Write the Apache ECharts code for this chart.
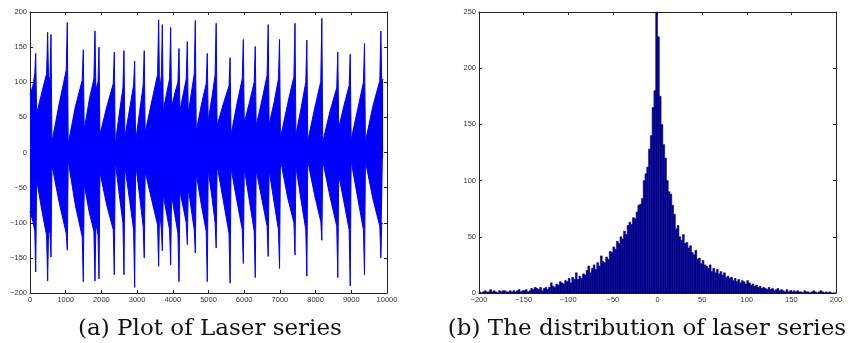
<!DOCTYPE html>
<html><head><meta charset="utf-8">
<script src="https://cdn.jsdelivr.net/npm/echarts@6/dist/echarts.min.js"></script>
<style>html,body{margin:0;padding:0;background:#fff}#c{width:855px;height:343px}</style>
</head><body><div id="c"></div>
<script>
// (a) Laser series: envelope of the dense oscillation
const laserX = [0,80,135,160, 185,330,465,495, 520,560,588, 615,820,1015,1045, 1070,1270,1463,1493,
  1518,1660,1790,1820, 1845,1905,1933, 1958,2150,2332,2362, 2387,2500,2603,2633, 2658,2790,2902,2932,
  2957,3070,3170,3200, 3225,3420,3574,3604, 3629,3680,3707, 3732,3830,3910,3940, 3965,4060,4144,4174,
  4199,4300,4377,4407, 4432,4520,4601,4631, 4656,4800,4936,4966, 4991,5100,5185,5215, 5240,5420,5575,5605,
  5630,5800,5946,5976, 6001,6150,6280,6310, 6335,6500,6642,6672, 6697,6840,6960,6990, 7015,7220,7393,7423,
  7448,7600,7725,7755, 7780,7970,8145,8175, 8200,8400,8592,8622, 8647,8800,8940,8970, 8995,9180,9340,9370,
  9395,9600,9798,9828, 9853,9890];
const laserUpper = [82,95,112,141, 55,85,112,171, 100,108,168, 15,70,117,185, 12,65,103,146,
  32,75,105,173, 90,100,150, 25,65,98,143, 12,55,92,145, 22,62,96,130,
  15,58,96,145, 28,75,111,189, 85,110,182, 60,85,105,178, 65,85,100,148,
  60,85,105,158, 55,85,112,188, 30,68,98,141, 45,80,110,184, 38,70,95,135,
  25,70,105,161, 42,72,100,151, 38,75,110,182, 40,72,105,161, 20,70,108,184,
  25,65,100,160, 16,62,101,191, 15,58,92,143, 35,68,95,140, 18,62,100,155,
  15,65,102,173, 100,105];
const laserLower = [-84,-98,-112,-170, -38,-82,-118,-183, -110,-115,-149, -18,-72,-115,-139, -12,-75,-120,-184,
  -45,-85,-112,-183, -100,-118,-180, -28,-75,-110,-174, -12,-60,-100,-174, -20,-68,-110,-192,
  -15,-62,-105,-150, -27,-70,-103,-162, -80,-110,-140, -60,-88,-110,-160, -60,-90,-115,-184,
  -55,-80,-100,-131, -50,-82,-110,-143, -30,-75,-112,-184, -25,-65,-100,-136, -18,-70,-115,-186,
  -22,-70,-110,-158, -22,-70,-112,-178, -25,-68,-105,-148, -25,-72,-110,-165, -10,-65,-100,-146,
  -20,-70,-110,-176, -12,-60,-98,-125, -12,-62,-105,-178, -32,-72,-110,-190, -12,-65,-110,-174,
  -12,-65,-105,-150, -100,-102];

// (b) Histogram of the laser series (bins of width 2 from -200 to 200)
const histBinStart = -200;
const histBinWidth = 2;
const histCounts = [
  1,0,1,2,1,1,3,1,2,1,0,2,1,2,2,1,1,2,1,2,
  1,2,3,1,2,2,3,1,2,4,
  3,5,4,3,5,2,4,5,3,5,
  9,6,5,8,7,10,9,8,11,10,
  13,9,14,12,18,12,15,13,17,16,
  20,24,18,22,25,21,27,24,33,28,
  27,32,30,37,36,41,39,46,44,50,
  48,55,52,60,63,61,67,66,72,78,
  79,84,100,106,112,128,140,165,180,250,
  228,175,150,132,120,100,90,88,78,70,
  57,60,50,47,52,44,45,40,42,36,
  34,38,30,31,26,29,25,24,22,25,
  19,22,18,21,17,19,16,18,14,15,
  13,14,11,13,10,12,9,11,10,8,
  11,9,7,8,6,7,5,6,4,5,
  4,3,5,3,4,2,3,4,2,3,
  2,1,3,1,2,1,2,1,2,1,
  1,0,2,1,1,0,1,2,1,0,1,2,1,0,1,0,1,0,0,0];

const captionA = '(a) Plot of Laser series';
const captionB = '(b) The distribution of laser series';

const chart = echarts.init(document.getElementById('c'), null, {renderer: 'canvas'});
const fmt = v => String(v).replace('-', '\u2212');
const lblStyle = {fontFamily: 'Liberation Sans, Arial, sans-serif', fontSize: 7.5, color: '#333'};
const axLine = {show: true, onZero: false, lineStyle: {color: '#222', width: 1}};
const tick = {show: true, inside: true, length: 3, lineStyle: {color: '#222', width: 1}};

function xAx(grid, min, max, interval, pos, labels) {
  return {type: 'value', gridIndex: grid, min, max, interval, position: pos,
    axisLine: axLine, axisTick: tick, splitLine: {show: false},
    axisLabel: labels ? Object.assign({show: true, margin: 3, formatter: fmt}, lblStyle) : {show: false}};
}
function yAx(grid, min, max, interval, pos, labels) {
  return {type: 'value', gridIndex: grid, min, max, interval, position: pos,
    axisLine: axLine, axisTick: tick, splitLine: {show: false},
    axisLabel: labels ? Object.assign({show: true, margin: 3, formatter: fmt}, lblStyle) : {show: false}};
}

const laserUp = laserX.map((x, i) => [x, laserUpper[i]]);
const laserLo = laserX.map((x, i) => [x, laserLower[i]]);
const histData = histCounts.map((c, i) => [histBinStart + i * histBinWidth, histBinStart + (i + 1) * histBinWidth, c]);

const option = {
  animation: false,
  backgroundColor: '#fff',
  grid: [
    {left: 30, top: 12, width: 357, height: 281},
    {left: 479, top: 12, width: 357, height: 281}
  ],
  xAxis: [
    xAx(0, 0, 10000, 1000, 'bottom', true),
    xAx(0, 0, 10000, 1000, 'top', false),
    xAx(1, -200, 200, 50, 'bottom', true),
    xAx(1, -200, 200, 50, 'top', false)
  ],
  yAxis: [
    yAx(0, -200, 200, 50, 'left', true),
    yAx(0, -200, 200, 50, 'right', false),
    yAx(1, 0, 250, 50, 'left', true),
    yAx(1, 0, 250, 50, 'right', false)
  ],
  series: [
    {type: 'line', xAxisIndex: 0, yAxisIndex: 0, data: laserUp, symbol: 'none', showSymbol: false,
      lineStyle: {color: '#0000ff', width: 1}, areaStyle: {color: '#0000ff', opacity: 1, origin: -8}, z: 2},
    {type: 'line', xAxisIndex: 0, yAxisIndex: 0, data: laserLo, symbol: 'none', showSymbol: false,
      lineStyle: {color: '#0000ff', width: 1}, areaStyle: {color: '#0000ff', opacity: 1, origin: 8}, z: 2},
    {type: 'custom', xAxisIndex: 2, yAxisIndex: 2, data: histData, encode: {x: [0, 1], y: 2},
      renderItem: function (params, api) {
        const p0 = api.coord([api.value(0), api.value(2)]);
        const p1 = api.coord([api.value(1), 0]);
        return {type: 'rect', shape: {x: p0[0], y: p0[1], width: p1[0] - p0[0], height: p1[1] - p0[1]},
          style: {fill: '#00008c', stroke: '#00008c', lineWidth: 0.6}};
      }, z: 2}
  ],
  graphic: [
    {type: 'text', x: 210, y: 329, style: {text: captionA, fontFamily: 'DejaVu Serif, serif', fontSize: 23,
      fill: '#111', textAlign: 'center', textVerticalAlign: 'middle'}},
    {type: 'text', x: 647, y: 329, style: {text: captionB, fontFamily: 'DejaVu Serif, serif', fontSize: 23,
      fill: '#111', textAlign: 'center', textVerticalAlign: 'middle'}}
  ]
};
chart.setOption(option);
</script>
</body></html>
